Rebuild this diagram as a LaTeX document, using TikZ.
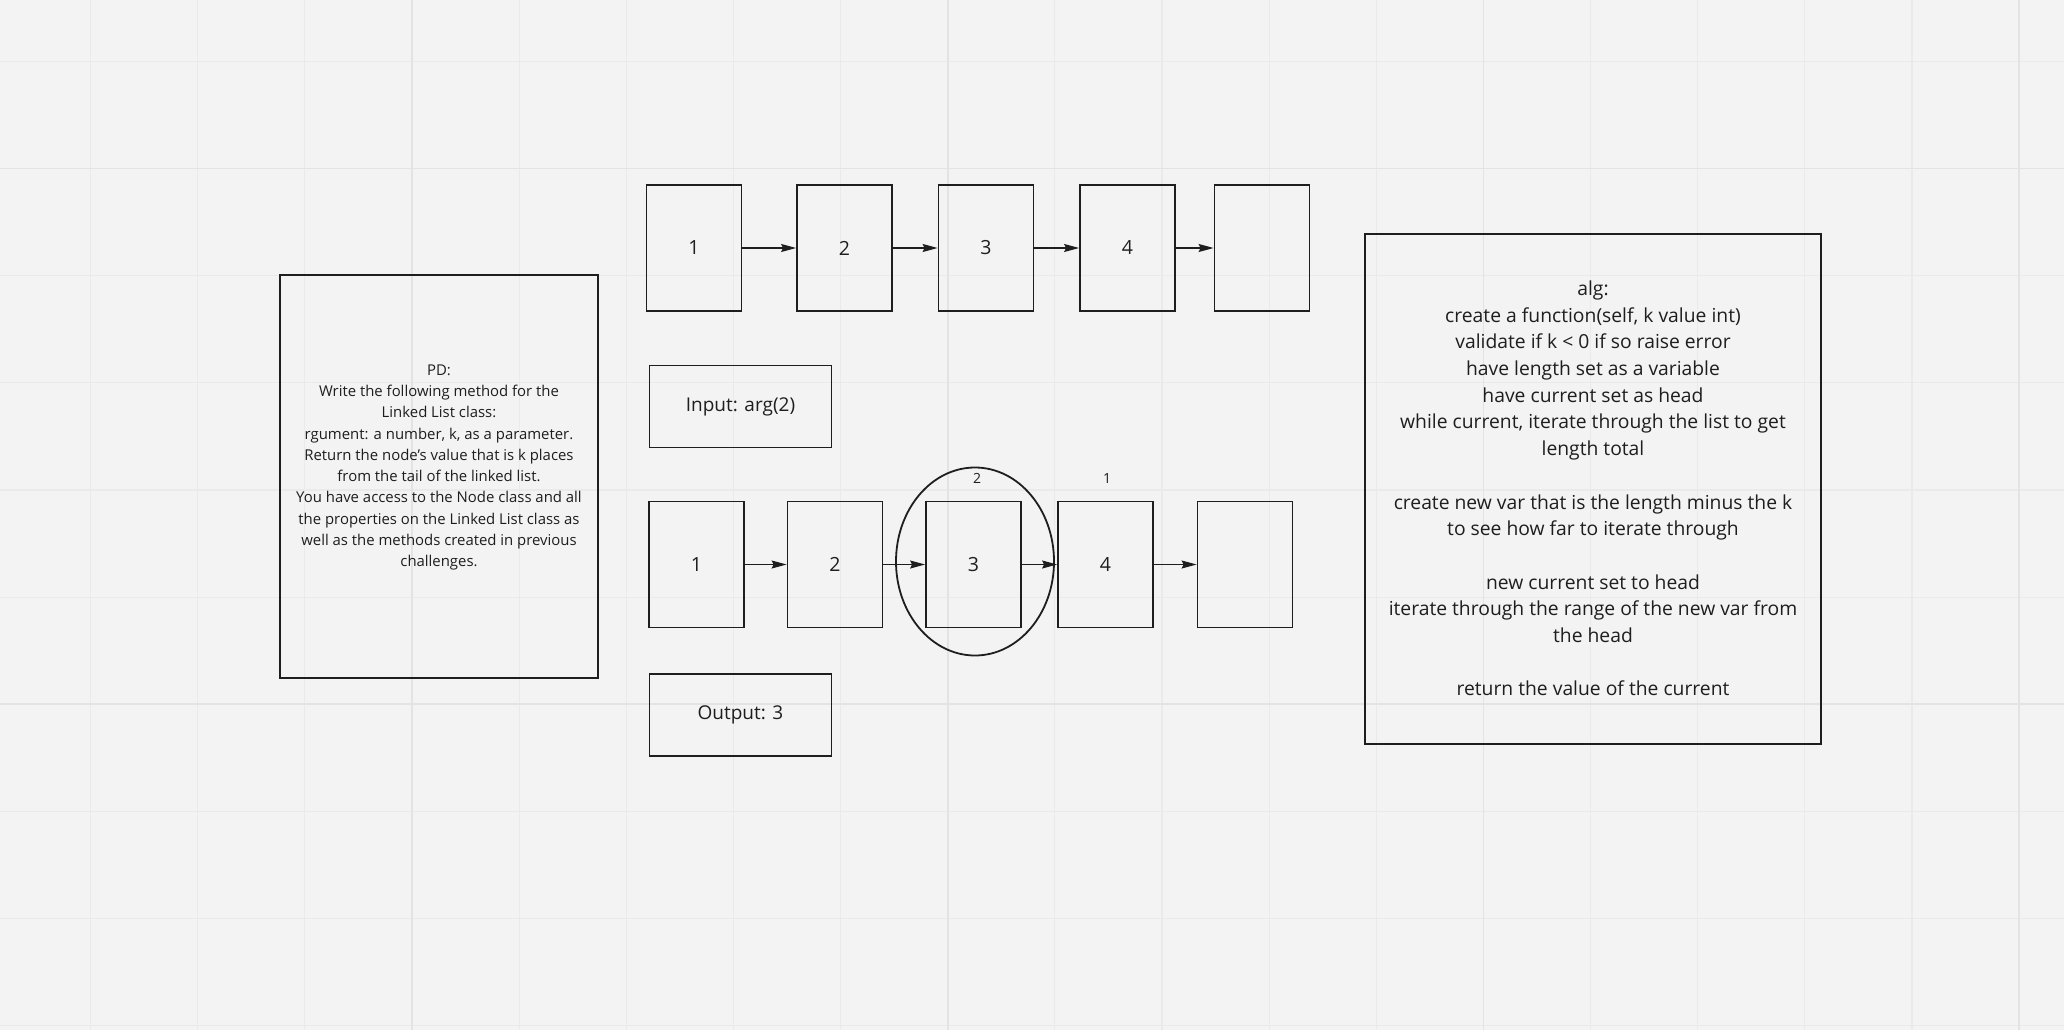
\documentclass[tikz,border=0pt]{standalone}
\usepackage{fontspec}
\setmainfont{Open Sans}
\usetikzlibrary{arrows.meta,shapes.geometric}
\definecolor{bg}{HTML}{F3F3F3}
\definecolor{gridminor}{HTML}{EAEAEA}
\definecolor{gridmajor}{HTML}{E3E3E3}
\definecolor{ink}{HTML}{1E1E1E}
\begin{document}
\begin{tikzpicture}[x=1pt,y=-1pt,
  cell/.style={draw=ink,line width=1.8pt,minimum width=95pt,minimum height=126pt,inner sep=0pt,font=\fontsize{19.5}{23}\selectfont,text=ink},
  iobox/.style={draw=ink,line width=1.8pt,minimum width=182pt,minimum height=82pt,inner sep=0pt,font=\fontsize{19}{23}\selectfont,text=ink},
  bigbox/.style={draw=ink,line width=1.8pt,inner sep=0pt},
  pdtxt/.style={align=center,text=ink,inner sep=0pt,font=\fontsize{14.9}{21.3}\selectfont},
  algtxt/.style={align=center,text=ink,inner sep=0pt,font=\fontsize{19.3}{26.7}\selectfont},
  smalllbl/.style={text=ink,inner sep=0pt,font=\fontsize{14}{16}\selectfont},
  arr/.style={draw=ink,line width=1.1pt,-{Stealth[length=15pt,width=8pt,inset=2pt]}},
  ring/.style={draw=ink,line width=1.8pt,ellipse,minimum width=158pt,minimum height=188pt,inner sep=0pt}
]
\fill[bg] (0,0) rectangle (2064,1030);
\useasboundingbox (0,0) rectangle (2064,1030);
% grid
\foreach \k in {0,...,18} {
  \pgfmathsetmacro\xx{90.6+107.14*\k}
  \draw[gridminor,line width=1.2pt] (\xx,0) -- (\xx,1030);
}
\foreach \k in {0,...,9} {
  \pgfmathsetmacro\yy{61.4+107.14*\k}
  \draw[gridminor,line width=1.2pt] (0,\yy) -- (2064,\yy);
}
\foreach \xx in {412,947.7,1483.4,2019.1} {
  \draw[gridmajor,line width=1.8pt] (\xx,0) -- (\xx,1030);
}
\foreach \yy in {168.5,704.2} {
  \draw[gridmajor,line width=1.8pt] (0,\yy) -- (2064,\yy);
}

% problem domain
\node[bigbox,minimum width=318pt,minimum height=403pt] (pd) at (439,476.5) {};
\node[pdtxt] (pdtext) at (439,467.5) {PD:\\Write the following method for the\\Linked List class:\\rgument: a number, k, as a parameter.\\Return the node’s value that is k places\\from the tail of the linked list.\\You have access to the Node class and all\\the properties on the Linked List class as\\well as the methods created in previous\\challenges.};

% top list
\node[cell] (b1) at (694,248) {1};
\node[cell] (b2) at (844.5,248) {2};
\node[cell] (b3) at (986,248) {3};
\node[cell] (b4) at (1127.5,248) {4};
\node[cell] (b5) at (1262,248) {};
\draw[arr] (b1.east) -- (b2.west);
\draw[arr] (b2.east) -- (b3.west);
\draw[arr] (b3.east) -- (b4.west);
\draw[arr] (b4.east) -- (b5.west);

% input
\node[iobox] (in) at (740.5,406.5) {Input: arg(2)};

% bottom list
\node[cell] (c1) at (696.5,564.5) {1};
\node[cell] (c2) at (835,564.5) {2};
\node[cell] (c3) at (973.5,564.5) {3};
\node[cell] (c4) at (1105.5,564.5) {4};
\node[cell] (c5) at (1245,564.5) {};
\draw[arr] (c1.east) -- (c2.west);
\draw[arr] (c2.east) -- (c3.west);
\draw[arr] (c3.east) -- (c4.west);
\draw[arr] (c4.east) -- (c5.west);
\node[ring] (ring) at (975,561.5) {};
\node[smalllbl] (k2) at (977,478) {2};
\node[smalllbl] (k1) at (1107,478) {1};

% output
\node[iobox] (out) at (740.5,715) {Output: 3};

% algorithm
\node[bigbox,minimum width=456pt,minimum height=510pt] (alg) at (1593,489) {};
\node[algtxt] (algtext) at (1593,488.5) {alg:\\create a function(self, k value int)\\validate if k < 0 if so raise error\\have length set as a variable\\have current set as head\\while current, iterate through the list to get\\length total\\[26.7pt]create new var that is the length minus the k\\to see how far to iterate through\\[26.7pt]new current set to head\\iterate through the range of the new var from\\the head\\[26.7pt]return the value of the current};
\end{tikzpicture}
\end{document}
